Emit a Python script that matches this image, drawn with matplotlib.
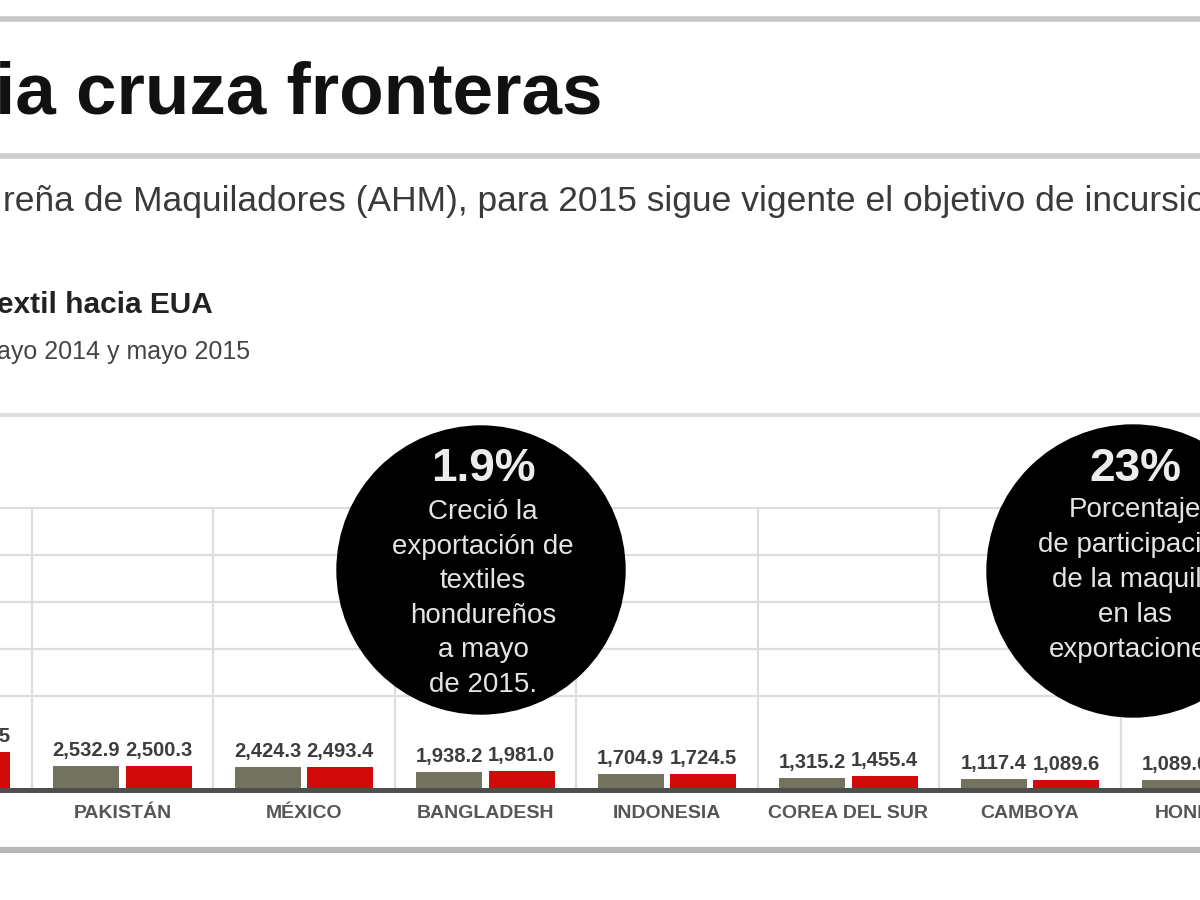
import matplotlib
matplotlib.use("Agg")
import matplotlib.pyplot as plt
from matplotlib.patches import Ellipse
import numpy as np

# ---------------- data ----------------
countries = ["VIETNAM", "PAKISTÁN", "MÉXICO", "BANGLADESH", "INDONESIA",
             "COREA DEL SUR", "CAMBOYA", "HONDURAS"]
may2014 = [3650.0, 2532.9, 2424.3, 1938.2, 1704.9, 1315.2, 1117.4, 1089.0]
may2015 = [4034.5, 2500.3, 2493.4, 1981.0, 1724.5, 1455.4, 1089.6, 1109.7]
grid_levels = [10000, 15000, 20000, 25000, 30000]

title = "ia cruza fronteras"
subtitle = "reña de Maquiladores (AHM), para 2015 sigue vigente el objetivo de incursio"
chart_title = "extil hacia EUA"
chart_sub = "ayo 2014 y mayo 2015"
bubble1_big = "1.9%"
bubble1_lines = ["Creció la", "exportación de", "textiles", "hondureños", "a mayo", "de 2015."]
bubble2_big = "23%"
bubble2_lines = ["Porcentaje", "de participación", "de la maquila", "en las", "exportaciones"]

GRAY = "#73735f"
RED = "#d20a0a"

SANS = ["Liberation Sans", "DejaVu Sans"]

fig = plt.figure(figsize=(12, 9), dpi=100)
fig.patch.set_facecolor("white")

# ---------------- background / header layer (pixel coords) ----------------
bg = fig.add_axes([0, 0, 1, 1])
bg.set_xlim(0, 1200)
bg.set_ylim(900, 0)
bg.axis("off")

for y, lw, c in [(19, 4.0, "#c6c6c6"), (156, 4.0, "#cdcdcd"),
                 (415, 3.0, "#dedede"), (850, 4.5, "#b8b8b8")]:
    bg.plot([0, 1200], [y, y], color=c, lw=lw, solid_capstyle="butt")

bg.text(-5, 114, title, fontsize=52.5, fontweight="bold", family=SANS,
        color="#111111", ha="left", va="baseline")
bg.text(3, 201, subtitle, fontsize=25.5, family=SANS, color="#3a3a3a",
        ha="left", va="center")
bg.text(-3, 305, chart_title, fontsize=21.5, fontweight="bold", family=SANS,
        color="#222222", ha="left", va="center")
bg.text(-3, 352, chart_sub, fontsize=18, family=SANS, color="#444444",
        ha="left", va="center")

# ---------------- chart ----------------
base_px = 790
top_px = 508
ax = fig.add_axes([0, (900 - base_px) / 900, 1, (base_px - top_px) / 900])
ax.set_facecolor("none")
cat_w = 181.5
first_center = 122.5
x_left = 1 - first_center / cat_w
x_right = 1 + (1200 - first_center) / cat_w

idx = np.arange(len(countries))
off = 0.2
bw = 0.365
ax.bar(idx - off, may2014, width=bw, color=GRAY, zorder=2)
ax.bar(idx + off, may2015, width=bw, color=RED, zorder=2)

ax.set_yticks(grid_levels)
ax.set_xticks(np.arange(0.5, len(countries), 1), minor=True)
ax.set_xticks([])
ax.grid(axis="y", color="#dddddd", lw=1.6, zorder=0)
ax.grid(axis="x", which="minor", color="#dddddd", lw=1.6, zorder=0)
ax.set_xlim(x_left, x_right)
ax.set_ylim(0, grid_levels[-1])
for gl in ax.get_ygridlines():
    gl.set_clip_on(False)
ax.tick_params(axis="both", which="both", length=0, labelleft=False, labelbottom=False)
for s in ax.spines.values():
    s.set_visible(False)
ax.axhline(0, color="#4e4e4e", lw=3.6, zorder=3, clip_on=False)

for i in idx:
    ax.annotate(f"{may2014[i]:,.1f}", xy=(i - off, may2014[i]), xytext=(0, 6),
                textcoords="offset pixels", ha="center", va="bottom",
                fontsize=14.5, fontweight="bold", family=SANS, color="#3d3d3d",
                annotation_clip=False)
    ax.annotate(f"{may2015[i]:,.1f}", xy=(i + off, may2015[i]), xytext=(0, 6),
                textcoords="offset pixels", ha="center", va="bottom",
                fontsize=14.5, fontweight="bold", family=SANS, color="#3d3d3d",
                annotation_clip=False)
    ax.annotate(countries[i], xy=(i, 0), xytext=(0, -23),
                textcoords="offset pixels", ha="center", va="center",
                fontsize=14, fontweight="bold", family=SANS, color="#565656",
                annotation_clip=False)

# ---------------- bubbles ----------------
ov = fig.add_axes([0, 0, 1, 1])
ov.set_xlim(0, 1200)
ov.set_ylim(900, 0)
ov.axis("off")
ov.patch.set_alpha(0)

def bubble(cx, cy, r, big, lines, y0, step):
    ov.add_patch(Ellipse((cx, cy), 2 * r, 2 * r, color="black", zorder=5))
    ov.text(cx + 2, 469, big, fontsize=33, fontweight="bold", family=SANS,
            color="#ececec", ha="center", va="center", zorder=6)
    for k, ln in enumerate(lines):
        ov.text(cx + 2, y0 + step * k, ln, fontsize=20, family=SANS,
                color="#e4e4e4", ha="center", va="center", zorder=6)

bubble(481, 570, 144, bubble1_big, bubble1_lines, 512, 34.6)
bubble(1133, 571, 146, bubble2_big, bubble2_lines, 510, 35.0)

fig.savefig("out.png", dpi=100, facecolor="white")
